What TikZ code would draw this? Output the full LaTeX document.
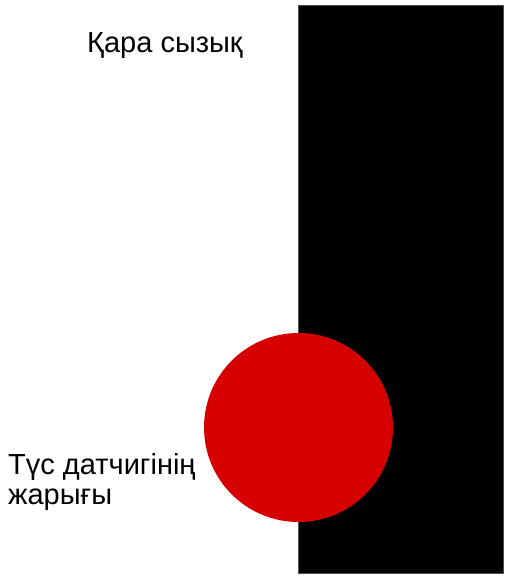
\documentclass[tikz,border=0pt]{standalone}
\usepackage{fontspec}
\setmainfont{Liberation Sans}
\usepackage{tikz}
\usetikzlibrary{positioning}

\definecolor{sensorred}{RGB}{214,0,0}

\begin{document}
\begin{tikzpicture}[
    x=1pt, y=-1pt,
    label/.style={font=\fontsize{29}{30}\selectfont, inner sep=0pt, align=left},
    line/.style={fill=black, draw=black!70, line width=0.6pt},
    light/.style={circle, fill=sensorred, minimum size=189pt, inner sep=0pt}
]
\useasboundingbox (0,0) rectangle (509,577);

\fill[line] (298,5) rectangle (503,573);
\node (spot) [light] at (298.5,427.5) {};

\node (linelabel) [label, anchor=base west] at (87,52.3) {Қара сызық};
\node (spotlabel) [label, anchor=base west] at (8,504) {Түс датчигінің\\жарығы};

\end{tikzpicture}
\end{document}
